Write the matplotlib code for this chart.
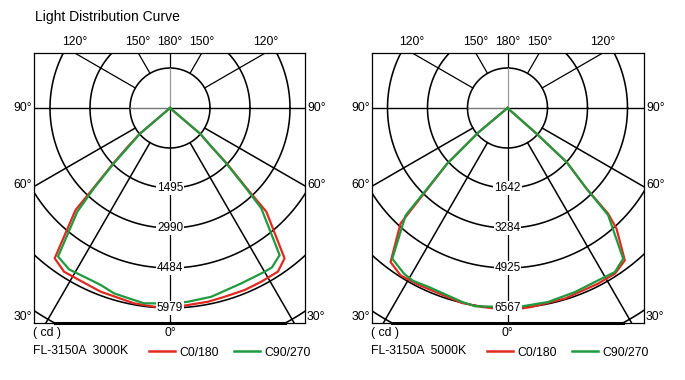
import numpy as np
import matplotlib.pyplot as plt

plt.rcParams['font.family'] = ['Liberation Sans', 'DejaVu Sans']

W, H = 685, 380

title = "Light Distribution Curve"
models = ["FL-3150A  3000K", "FL-3150A  5000K"]
imax = [5979, 6567]
ring_labels = [["1495", "2990", "4484", "5979"],
               ["1642", "3284", "4925", "6567"]]
series_names = ["C0/180", "C90/270"]
angle_top = ["120°", "150°", "180°", "150°", "120°"]

# angle from nadir in degrees (negative = left half), intensity in cd
c0_ang_3000 = [-49.5, -49.5, -47.5, -45.7, -43.7, -42.8, -37.5, -32.9, -26.8, -20.7,
               -10.4, -4.6, 0, 5.2, 11.1, 16.2, 22.3, 27.7, 33.4, 37.3, 42.9, 43.7,
               45.7, 47.2, 49.5, 49.5]
c0_cd_3000 = [0, 1196, 1704, 2362, 3319, 4156, 5663, 5830, 5818, 5869,
              5938, 5959, 5979, 5914, 5902, 5875, 5881, 5866, 5860, 5651, 4231, 3319,
              2362, 1614, 1196, 0]
c90_ang_3000 = [-49.5, -49.5, -47.2, -45.5, -43.5, -41.8, -37, -32, -25.9, -21.4,
                -16.8, -13.7, -7.6, -4.7, 0, 5.3, 12.3, 22.1, 30, 32.6, 36.7, 42.3,
                43.5, 45.5, 47.2, 49.5, 49.5]
c90_cd_3000 = [0, 1196, 1614, 2332, 3289, 4156, 5561, 5690, 5660, 5681,
               5788, 5807, 5890, 5860, 5860, 5816, 5777, 5660, 5654, 5657, 5484, 4054,
               3289, 2332, 1614, 1196, 0]

c0_ang_5000 = [-50, -50, -48, -47.3, -44.9, -42.8, -37.2, -32.6, -27, -21.4, -13.1,
               -7.2, -2.5, -1, 0, 1, 6.9, 16.8, 27.3, 33, 37.6, 42.1, 43.6, 44.4,
               47.5, 48.5, 48.5]
c0_cd_5000 = [0, 1248, 2075, 2709, 3612, 5172, 6350, 6521, 6501, 6488, 6574,
              6587, 6600, 6633, 6731, 6633, 6580, 6534, 6488, 6482, 6314, 5339, 4794, 3724,
              2643, 1281, 0]
c90_ang_5000 = [-50, -50, -47.9, -47.3, -45, -43.5, -37.4, -32, -28.7, -23.7, -13.1,
                -9.2, -3, 0, 3, 11.8, 20.1, 26.7, 33.2, 37.5, 43.2, 44.4, 47.5, 48.5, 48.5]
c90_cd_5000 = [0, 1248, 2092, 2692, 3678, 4860, 6229, 6413, 6468, 6419, 6541,
               6597, 6534, 6551, 6544, 6508, 6436, 6393, 6436, 6239, 4827, 3710, 2643, 1281, 0]

curves = [[(c0_ang_3000, c0_cd_3000), (c90_ang_3000, c90_cd_3000)],
          [(c0_ang_5000, c0_cd_5000), (c90_ang_5000, c90_cd_5000)]]
colors = ['#e02a20', '#1f9a3e']

# panel boxes in pixels: left, right, center x ; top 53, bottom 323, center y 108
panels = [(34, 305, 170), (372, 644, 507.5)]
top, bot, cy = 53, 323, 108

fig = plt.figure(figsize=(W / 100, H / 100), dpi=100)


def ftext(x, y, s, **kw):
    fig.text(x / W, 1 - y / H, s, **kw)


ftext(35, 17, title, fontsize=10, ha='left', va='center')

for p, (x0, x1, cx) in enumerate(panels):
    s = imax[p] / 200.0  # cd per pixel
    R = imax[p] / 5.0
    ax = fig.add_axes([x0 / W, (H - bot) / H, (x1 - x0) / W, (bot - top) / H])
    ax.set_xlim(-(cx - x0) * s, (x1 - cx) * s)
    ax.set_ylim(-(bot - cy) * s, (cy - top) * s)
    ax.set_xticks([])
    ax.set_yticks([])
    for sp in ax.spines.values():
        sp.set_linewidth(0.9)

    t = np.linspace(0, 2 * np.pi, 500)
    for k in range(1, 6):
        ax.plot(k * R * np.cos(t), k * R * np.sin(t), color='k', lw=1.15, zorder=1)
    r6 = 244 * s
    ax.plot(r6 * np.cos(t), r6 * np.sin(t), color='k', lw=1.15, zorder=1)

    big = 4 * imax[p]
    for a in [30, 60, 120, 150]:
        for sg in [-1, 1]:
            th = np.radians(a) * sg
            lw = 1.1 if a in (30, 60) else 0.9
            ax.plot([R * np.sin(th), big * np.sin(th)], [-R * np.cos(th), -big * np.cos(th)],
                    color='k', lw=lw, zorder=1)
    # axes lines
    ax.plot([0, 0], [R, big], color='k', lw=0.9, zorder=1)
    ax.plot([0, 0], [0, R], color='#999999', lw=0.9, zorder=1)
    ax.plot([0, 0], [0, -big], color='k', lw=0.9, zorder=1)
    ax.plot([-big, -R], [0, 0], color='k', lw=1.0, zorder=1)
    ax.plot([-R, 0], [0, 0], color='#777777', lw=1.0, zorder=1)
    ax.plot([0, big], [0, 0], color='k', lw=1.0, zorder=1)

    # heavy bottom edge inside the outer ring
    yb = -(bot - cy) * s
    xb = np.sqrt(r6 ** 2 - yb ** 2)
    ax.plot([-xb, xb], [yb, yb], color='k', lw=2.2, clip_on=False, zorder=4)

    for (ang, cd), col in zip(curves[p], colors):
        th = np.radians(ang)
        cd = np.array(cd)
        ax.plot(cd * np.sin(th), -cd * np.cos(th), color=col, lw=1.6, zorder=2)

    for k, lbl in enumerate(ring_labels[p]):
        ax.text(0, -(k + 2) * R, lbl, ha='center', va='center', fontsize=8.5, zorder=3,
                bbox=dict(facecolor='white', edgecolor='none', pad=0.6))

    # angle labels
    dx30 = (cy - top) / np.tan(np.radians(30))
    dx60 = (cy - top) / np.tan(np.radians(60))
    for xx, lbl in zip([cx - dx30, cx - dx60, cx, cx + dx60, cx + dx30], angle_top):
        ftext(xx, 42, lbl, fontsize=8.8, ha='center', va='center')
    for yy, lbl in [(108, "90°"), (185, "60°"), (317, "30°")]:
        ftext(x0 - 2, yy, lbl, fontsize=8.8, ha='right', va='center')
        ftext(x1 + 2, yy, lbl, fontsize=8.8, ha='left', va='center')
    ftext(cx, 333, "0°", fontsize=8.8, ha='center', va='center')
    ftext(x0 - 1, 333, "( cd )", fontsize=8.8, ha='left', va='center')
    ftext(x0 - 1, 351, models[p], fontsize=8.8, ha='left', va='center')

    lx = x0 + 115
    for i, name in enumerate(series_names):
        xs = lx + i * 85
        fig.lines.append(plt.Line2D([xs / W, (xs + 26) / W], [1 - 351 / H, 1 - 351 / H],
                                    color=colors[i], lw=1.8, transform=fig.transFigure))
        ftext(xs + 30, 353, name, fontsize=8.8, ha='left', va='center')

fig.savefig('out.png', dpi=100)
